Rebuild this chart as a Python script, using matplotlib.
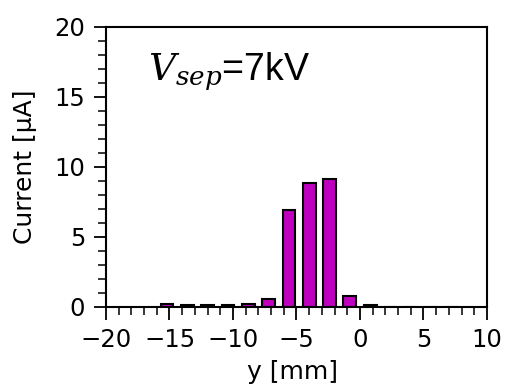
import matplotlib
matplotlib.use('Agg')
import matplotlib.pyplot as plt
from matplotlib.ticker import MultipleLocator

# bar positions (mm) and measured current (uA)
y_pos = [-15.2, -13.6, -12.0, -10.4, -8.8, -7.2, -5.6, -4.0, -2.4, -0.8,
         0.8, 2.4, 4.0, 5.6, 7.2]
current = [0.25, 0.12, 0.12, 0.12, 0.25, 0.55, 6.9, 8.85, 9.15, 0.8,
           0.12, 0.03, 0.03, 0.03, 0.03]
x_ticks = [-20, -15, -10, -5, 0, 5, 10]
y_ticks = [0, 5, 10, 15, 20]

plt.rcParams['mathtext.fontset'] = 'custom'
plt.rcParams['mathtext.it'] = 'DejaVu Serif:italic'
plt.rcParams['mathtext.rm'] = 'DejaVu Serif'

fig = plt.figure(figsize=(5.23, 3.9), dpi=100)
ax = fig.add_axes([106 / 523, 1 - 307 / 390, 381 / 523, 280 / 390])

ax.bar(y_pos, current, width=1.0, color='m', edgecolor='black', linewidth=1.5)

ax.set_xlim(-20, 10)
ax.set_ylim(0, 20)
ax.set_xticks(x_ticks)
ax.set_yticks(y_ticks)
ax.xaxis.set_minor_locator(MultipleLocator(1))
ax.yaxis.set_minor_locator(MultipleLocator(1))
ax.tick_params(which='major', labelsize=17.5, length=9, width=1.3, colors='black')
ax.tick_params(axis='x', which='major', pad=6)
ax.tick_params(axis='y', which='major', pad=6)
ax.tick_params(which='minor', length=5.5, width=1.1)
ax.set_xticklabels(['\u221220', '\u221215', '\u221210', '\u22125', '0', '5', '10'])
for s in ax.spines.values():
    s.set_linewidth(1.5)

ax.set_xlabel('y [mm]', fontsize=18)
ax.set_ylabel('Current [\u03bcA]', fontsize=18)
ax.xaxis.set_label_coords(0.49, -0.19)
ax.yaxis.set_label_coords(-0.18, 0.5)

ax.text(0.11, 0.838, r'$V_{sep}$=7kV', transform=ax.transAxes, fontsize=27,
        va='center', ha='left', family='Liberation Sans')

fig.savefig('out.png', dpi=100)
